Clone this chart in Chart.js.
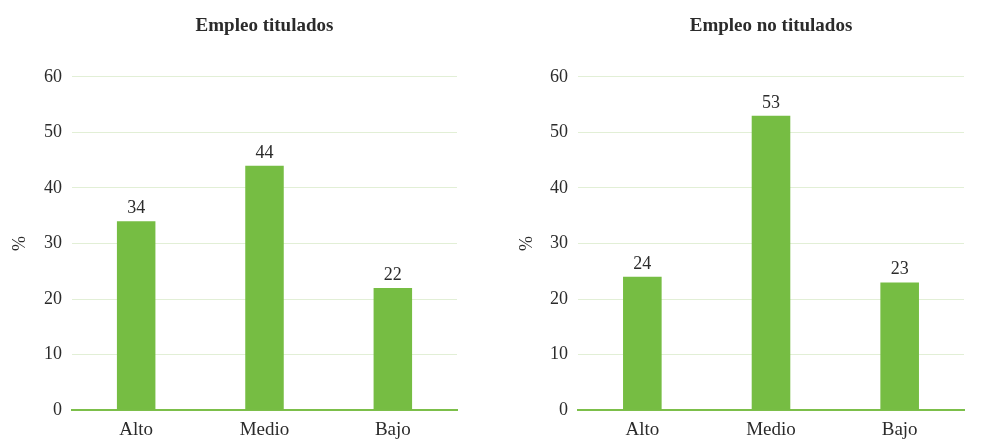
<!DOCTYPE html>
<html>
<head>
<meta charset="utf-8">
<script src="https://cdn.jsdelivr.net/npm/chart.js@4"></script>
<style>
  body { margin: 0; background: #fff; }
  .panel { position: absolute; top: 0; width: 497px; height: 446px; }
</style>
</head>
<body>
<div class="panel" style="left:0"><canvas id="chartTitulados"></canvas></div>
<div class="panel" style="left:497px"><canvas id="chartNoTitulados"></canvas></div>
<script>
// Data
const niveles = ['Alto', 'Medio', 'Bajo'];
const titulados = [34, 44, 22];
const noTitulados = [24, 53, 23];
const yTicks = [0, 10, 20, 30, 40, 50, 60];

const barColor = '#76bd43';
const textColor = '#2b2b2b';
const fontFamily = '"Liberation Serif", "Times New Roman", serif';

// Draw the value above each bar
const barLabels = {
    id: 'barLabels',
    afterDatasetsDraw(chart) {
        const ctx = chart.ctx;
        const meta = chart.getDatasetMeta(0);
        ctx.save();
        ctx.font = '18px ' + fontFamily;
        ctx.fillStyle = textColor;
        ctx.textAlign = 'center';
        ctx.textBaseline = 'alphabetic';
        meta.data.forEach((bar, i) => {
            ctx.fillText(chart.data.datasets[0].data[i], bar.x, bar.y - 8);
        });
        ctx.restore();
    }
};

function makeChart(id, title, values, padLeft, padRight, axisWidth) {
    const ctx = document.getElementById(id).getContext('2d');
    return new Chart(ctx, {
        type: 'bar',
        data: {
            labels: niveles,
            datasets: [{
                data: values,
                backgroundColor: barColor,
                categoryPercentage: 1,
                barPercentage: 0.3
            }]
        },
        options: {
            responsive: true,
            maintainAspectRatio: false,
            animation: false,
            layout: {
                padding: { left: padLeft, right: padRight, top: 0, bottom: 5 }
            },
            plugins: {
                legend: { display: false },
                tooltip: { enabled: false },
                title: {
                    display: true,
                    fullSize: false,
                    text: title,
                    color: textColor,
                    font: { family: fontFamily, size: 19, weight: 'bold' },
                    padding: { top: 15, bottom: 39 }
                }
            },
            scales: {
                x: {
                    grid: { display: false },
                    border: { color: '#7cbf4a', width: 2 },
                    ticks: {
                        color: textColor,
                        font: { family: fontFamily, size: 19 },
                        padding: 0
                    }
                },
                y: {
                    min: 0,
                    max: 60,
                    afterFit(scale) { scale.width = axisWidth; },
                    afterBuildTicks(scale) {
                        scale.ticks = yTicks.map(v => ({ value: v }));
                    },
                    grid: { color: '#e2efd6', drawTicks: false },
                    border: { display: false },
                    ticks: {
                        color: textColor,
                        font: { family: fontFamily, size: 18 },
                        padding: 10
                    },
                    title: {
                        display: true,
                        text: '%',
                        color: textColor,
                        font: { family: fontFamily, size: 18 },
                        padding: { top: 9, bottom: 0 }
                    }
                }
            }
        },
        plugins: [barLabels]
    });
}

makeChart('chartTitulados', 'Empleo titulados', titulados, 0, 40, 72);
makeChart('chartNoTitulados', 'Empleo no titulados', noTitulados, 10, 30, 71);
</script>
</body>
</html>
